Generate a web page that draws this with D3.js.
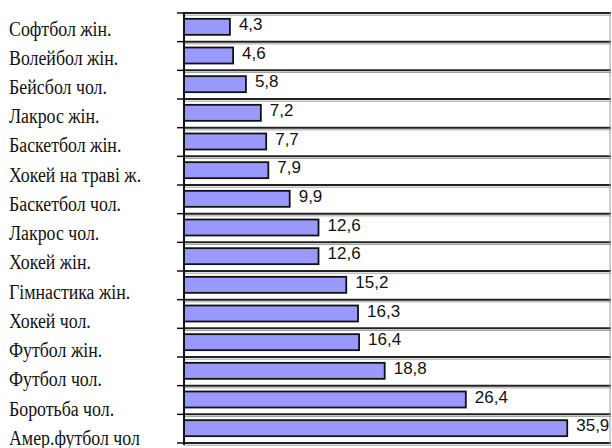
<!DOCTYPE html>
<html>
<head>
<meta charset="utf-8">
<script src="https://cdn.jsdelivr.net/npm/d3@7/dist/d3.min.js"></script>
<style>
  html, body { margin: 0; padding: 0; background: #fff; }
  svg { display: block; }
</style>
</head>
<body>
<script>
// Sports and their values, top to bottom
const categories = [
  "Софтбол жін.", "Волейбол жін.", "Бейсбол чол.", "Лакрос жін.",
  "Баскетбол жін.", "Хокей на траві ж.", "Баскетбол чол.", "Лакрос чол.",
  "Хокей жін.", "Гімнастика жін.", "Хокей чол.", "Футбол жін.",
  "Футбол чол.", "Боротьба чол.", "Амер.футбол чол"
];
const values = [4.3, 4.6, 5.8, 7.2, 7.7, 7.9, 9.9, 12.6, 12.6, 15.2, 16.3, 16.4, 18.8, 26.4, 35.9];
const xDomain = [0, 40];

const W = 612, H = 448;
const plotLeft = 184, plotRight = 611, plotTop = 13, plotBottom = 443;

const svg = d3.select("body").append("svg").attr("width", W).attr("height", H);

const x = d3.scaleLinear().domain(xDomain).range([plotLeft, plotRight]);
const y = d3.scaleBand().domain(categories).range([plotTop, plotBottom]).paddingInner(0).paddingOuter(0);
// category text runs on a slightly looser pitch than the rows
const yLabel = d3.scaleBand().domain(categories).range([plotTop, 451.5]);

const fmt = v => d3.format(".1f")(v).replace(".", ",");

// Row separators: dark rule with a light shadow line below
const bounds = d3.range(categories.length + 1).map(i => plotTop + i * y.step());
svg.append("g").selectAll("line").data(bounds).join("line")
  .attr("x1", plotLeft).attr("x2", plotRight)
  .attr("y1", d => d + 2.2).attr("y2", d => d + 2.2)
  .attr("stroke", "#a0a0a0").attr("stroke-width", 1);
svg.append("g").selectAll("line").data(bounds).join("line")
  .attr("x1", plotLeft).attr("x2", plotRight)
  .attr("y1", d => d).attr("y2", d => d)
  .attr("stroke", "#222").attr("stroke-width", 2);

// Right border of plot area
svg.append("line").attr("x1", plotRight - 1).attr("x2", plotRight - 1)
  .attr("y1", plotTop).attr("y2", plotBottom + 2).attr("stroke", "#999").attr("stroke-width", 1);

// Bars
const barH = 16;
svg.append("g").selectAll("rect").data(values).join("rect")
  .attr("x", x(0))
  .attr("y", (d, i) => y(categories[i]) + (y.bandwidth() - barH) / 2 - 0.5)
  .attr("width", d => x(d) - x(0))
  .attr("height", barH)
  .attr("fill", "#9999ff")
  .attr("stroke", "#111")
  .attr("stroke-width", 1.8);

// Category axis with ticks on the row boundaries
svg.append("g").selectAll("line").data(bounds).join("line")
  .attr("x1", plotLeft - 7).attr("x2", plotLeft)
  .attr("y1", d => d).attr("y2", d => d)
  .attr("stroke", "#111").attr("stroke-width", 1.5);
svg.append("line").attr("x1", plotLeft).attr("x2", plotLeft)
  .attr("y1", plotTop - 1).attr("y2", plotBottom + 2)
  .attr("stroke", "#111").attr("stroke-width", 2);

// Category labels (tall, narrow serif)
svg.append("g").selectAll("text").data(categories).join("text")
  .attr("transform", d => `translate(9,${yLabel(d) + yLabel.bandwidth() / 2 + 1}) scale(0.87,1)`)
  .attr("dominant-baseline", "central")
  .attr("font-family", "'Liberation Serif', 'Times New Roman', serif")
  .attr("font-size", 20.5)
  .attr("fill", "#111")
  .text(d => d);

// Value labels
svg.append("g").selectAll("text").data(values).join("text")
  .attr("x", d => x(d) + 9)
  .attr("y", (d, i) => y(categories[i]) + y.bandwidth() / 2 - 3)
  .attr("dominant-baseline", "central")
  .attr("font-family", "'Liberation Sans', Arial, sans-serif")
  .attr("font-size", 17)
  .attr("fill", "#111")
  .text(d => fmt(d));
</script>
</body>
</html>
